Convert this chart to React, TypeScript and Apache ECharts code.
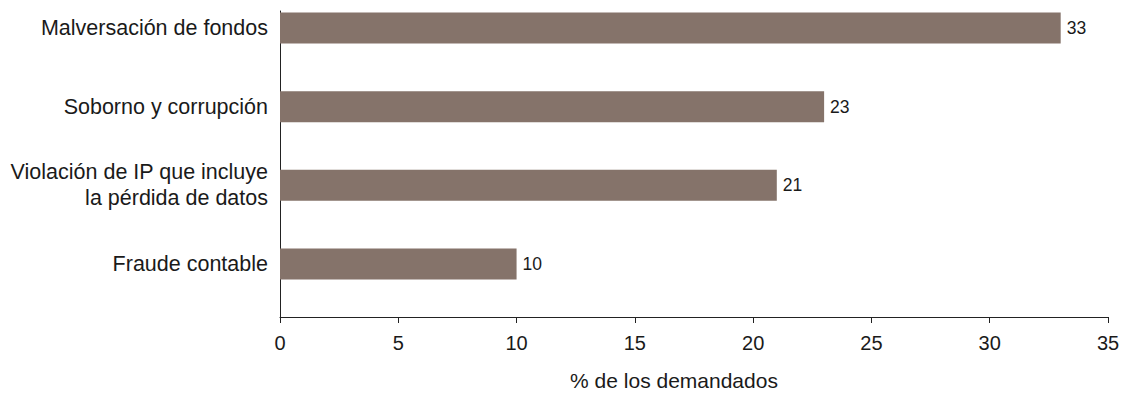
import React, { useEffect, useRef } from "react";
import * as echarts from "echarts";

const categories = [
  "Malversación de fondos",
  "Soborno y corrupción",
  "Violación de IP que incluye\nla pérdida de datos",
  "Fraude contable",
];
const values = [33, 23, 21, 10];
const xTicks = { min: 0, max: 35, interval: 5 };
const xAxisName = "% de los demandados";

const FONT = "'Liberation Sans', Arial, Helvetica, sans-serif";
const TEXT = "#1a1a1a";
const BAR = "#85736a";

export default function App() {
  const ref = useRef<HTMLDivElement>(null);
  useEffect(() => {
    if (!ref.current) return;
    const chart = echarts.init(ref.current, null, { renderer: "svg" });
    chart.setOption({
      animation: false,
      backgroundColor: "#ffffff",
      textStyle: { fontFamily: FONT },
      grid: [
        { left: 280, right: 18, top: 28, bottom: 132 },
        { left: 280, right: 18, top: 11, bottom: 72 },
      ],
      xAxis: [
        {
          gridIndex: 0,
          type: "value",
          min: xTicks.min,
          max: xTicks.max,
          interval: xTicks.interval,
          show: false,
        },
        {
          gridIndex: 1,
          type: "value",
          min: xTicks.min,
          max: xTicks.max,
          interval: xTicks.interval,
          axisLine: { show: true, lineStyle: { color: "#222", width: 1 } },
          axisTick: { show: true, length: 6, lineStyle: { color: "#222" } },
          axisLabel: { fontSize: 20, color: TEXT, margin: 16, fontFamily: FONT },
          splitLine: { show: false },
          name: xAxisName,
          nameLocation: "middle",
          nameGap: 53,
          nameTextStyle: { fontSize: 21, color: TEXT, fontFamily: FONT, padding: [0, 40, 0, 0] },
        },
      ],
      yAxis: [
        {
          gridIndex: 0,
          type: "category",
          inverse: true,
          boundaryGap: false,
          data: categories,
          axisLine: { show: false },
          axisTick: { show: false },
          axisLabel: {
            fontSize: 21.5,
            color: TEXT,
            margin: 12,
            lineHeight: 26,
            fontFamily: FONT,
            align: "right",
          },
          splitLine: { show: false },
        },
        {
          gridIndex: 1,
          type: "value",
          min: 0,
          max: 1,
          axisLine: { show: true, lineStyle: { color: "#222", width: 1 } },
          axisTick: { show: false },
          axisLabel: { show: false },
          splitLine: { show: false },
        },
      ],
      series: [
        {
          type: "bar",
          xAxisIndex: 0,
          yAxisIndex: 0,
          data: values,
          barWidth: 31,
          clip: false,
          itemStyle: { color: BAR },
          label: {
            show: true,
            position: "right",
            distance: 6,
            fontSize: 17.5,
            color: TEXT,
            fontFamily: FONT,
          },
        },
      ],
    });
    return () => chart.dispose();
  }, []);
  return (
    <div
      ref={ref}
      style={{ position: "fixed", left: 0, top: 0, width: 1126, height: 396, background: "#fff" }}
    />
  );
}
